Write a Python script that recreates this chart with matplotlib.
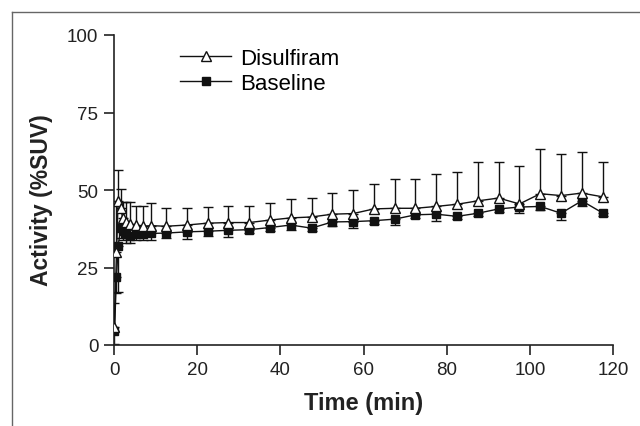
import numpy as np
import matplotlib.pyplot as plt
from matplotlib.lines import Line2D

plt.rcParams['font.family'] = ['Liberation Sans', 'DejaVu Sans']

# frame mid-times (min)
time = [0.1, 0.6, 1.0, 1.6, 2.1, 2.9, 3.9, 5.25, 7.0, 9.0,
        12.5, 17.5, 22.5, 27.5, 32.5, 37.5, 42.5, 47.5, 52.5, 57.5,
        62.5, 67.5, 72.5, 77.5, 82.5, 87.5, 92.5, 97.5, 102.5, 107.5,
        112.5, 117.5]

# Disulfiram: mean and upper SD
disulfiram = [5.7, 29.9, 46.5, 44.2, 40.9, 39.6, 39.0, 38.7, 38.3, 38.5,
              38.3, 38.7, 39.3, 39.5, 39.5, 40.3, 41.0, 41.3, 42.2, 42.4,
              43.9, 44.1, 44.1, 44.7, 45.4, 46.5, 47.4, 45.5, 48.8, 48.2,
              49.0, 47.8]
disulfiram_sd = [7.9, 15.6, 10.1, 6.2, 5.1, 6.4, 7.0, 6.1, 6.4, 7.2,
                 5.8, 5.6, 5.1, 5.3, 5.3, 5.4, 6.1, 6.1, 6.7, 7.6,
                 8.0, 9.4, 9.5, 10.4, 10.3, 12.4, 11.6, 12.1, 14.5, 13.5,
                 13.3, 11.2]

# Baseline: mean and lower SD
baseline = [4.4, 21.8, 32.0, 37.6, 36.8, 35.8, 35.3, 35.8, 35.8, 36.0,
            36.1, 36.5, 36.7, 37.0, 37.2, 37.9, 38.7, 37.7, 39.7, 39.8,
            40.1, 40.6, 42.0, 42.2, 41.5, 42.5, 43.9, 44.5, 44.7, 42.5,
            46.5, 42.6]
baseline_sd = [4.0, 5.0, 15.0, 3.0, 3.0, 3.0, 2.5, 2.0, 2.0, 2.0,
               1.7, 2.3, 1.5, 2.0, 1.2, 1.2, 1.5, 1.0, 1.2, 2.0,
               1.2, 2.0, 1.0, 2.1, 1.0, 1.0, 1.0, 1.9, 1.0, 2.3,
               1.8, 1.0]

xticks = [0, 20, 40, 60, 80, 100, 120]
yticks = [0, 25, 50, 75, 100]

fig = plt.figure(figsize=(6.4, 4.27), dpi=100)
ax = fig.add_axes([114/640, 1 - 346/427, (613 - 114)/640, (346 - 36)/427])

zero = np.zeros(len(time))
ax.errorbar(time, baseline, yerr=[baseline_sd, zero], fmt='none', ecolor='#111111',
            elinewidth=1.0, capsize=3.6, capthick=1.0, zorder=2)
ax.errorbar(time, disulfiram, yerr=[zero, disulfiram_sd], fmt='none', ecolor='#111111',
            elinewidth=1.0, capsize=3.6, capthick=1.0, zorder=2)
ax.plot(time, baseline, '-s', color='#111111', lw=1.0, ms=6,
        markerfacecolor='#111111', markeredgecolor='#111111', label='Baseline', zorder=3)
ax.plot(time, disulfiram, '-^', color='#111111', lw=1.0, ms=7.5,
        markerfacecolor='white', markeredgecolor='#111111', markeredgewidth=1.0,
        label='Disulfiram', zorder=4)

ax.set_xlim(0, 120)
ax.set_ylim(0, 100)
ax.set_xticks(xticks)
ax.set_yticks(yticks)
ax.spines['top'].set_visible(False)
ax.spines['right'].set_visible(False)
for s in ['left', 'bottom']:
    ax.spines[s].set_linewidth(1.2)
    ax.spines[s].set_color('#222222')
ax.tick_params(direction='out', length=7.2, width=1.2, colors='#222222',
               labelsize=13.5, pad=4)

ax.set_xlabel('Time (min)', fontsize=17, fontweight='bold', color='#222222')
ax.set_ylabel('Activity (%SUV)', fontsize=16.5, fontweight='bold', color='#222222')
ax.xaxis.set_label_coords(0.5, -0.15)
ax.yaxis.set_label_coords(-0.145, 0.47)
ax.yaxis.label.set_va('center')

h, l = ax.get_legend_handles_labels()
ax.legend(h[::-1], l[::-1], loc='upper left', bbox_to_anchor=(180/640, 1 - 49/427),
          bbox_transform=fig.transFigure, frameon=False, fontsize=16,
          handlelength=2.3, handletextpad=0.4, borderpad=0, borderaxespad=0,
          labelspacing=0.16)

# grey frame around the figure
fig.add_artist(Line2D([11.5/640, 11.5/640], [0, 1 - 12.5/427], transform=fig.transFigure,
                      color='#666666', lw=1.0))
fig.add_artist(Line2D([11.5/640, 1], [1 - 12.5/427, 1 - 12.5/427], transform=fig.transFigure,
                      color='#666666', lw=1.0))

fig.savefig('out.png', dpi=100)
